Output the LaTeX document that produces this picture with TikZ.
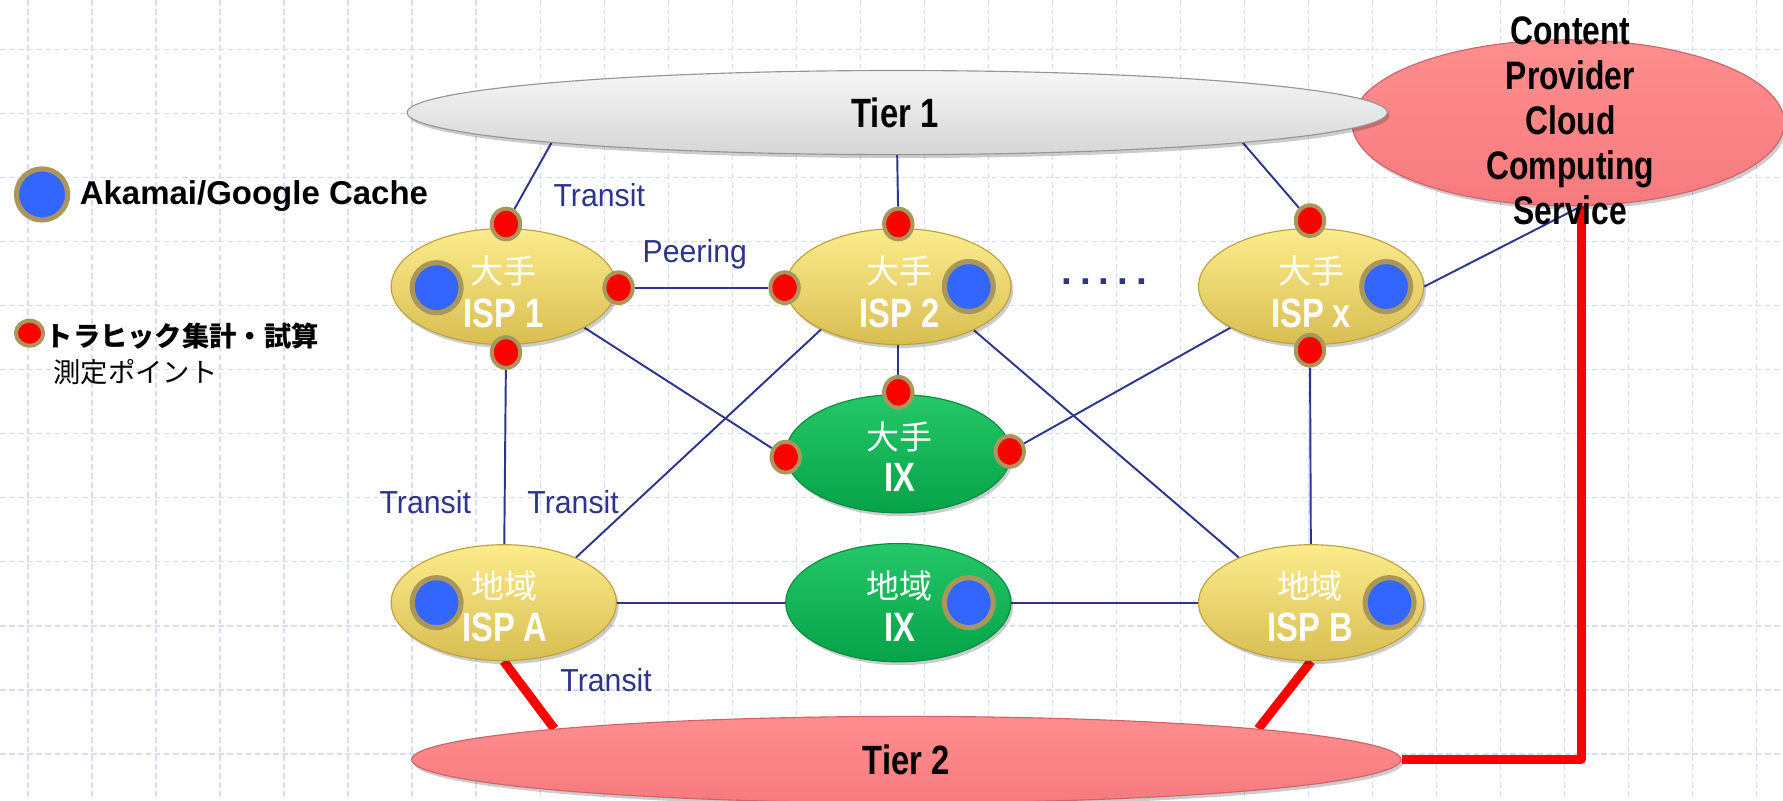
\documentclass[tikz,border=0pt]{standalone}
\usepackage{fontspec}
\setmainfont{Liberation Sans}
\newfontfamily\narrowsans{Liberation Sans}[FakeStretch=0.8]
\newfontfamily\labelsans{Liberation Sans}[FakeStretch=0.95]
\newfontfamily\jp{Noto Sans CJK JP}
\usetikzlibrary{shapes.geometric,shadows,calc}

\definecolor{navy}{RGB}{46,52,140}
\definecolor{gridblue}{RGB}{212,222,250}
\definecolor{cacheblue}{RGB}{51,102,255}
\definecolor{rim}{RGB}{168,150,92}
\definecolor{ispTop}{RGB}{252,236,140}
\definecolor{ispBot}{RGB}{216,190,82}
\definecolor{ispEdge}{RGB}{190,160,60}
\definecolor{ixTop}{RGB}{36,200,104}
\definecolor{ixBot}{RGB}{6,162,72}
\definecolor{ixEdge}{RGB}{5,140,62}
\definecolor{pinkTop}{RGB}{255,142,142}
\definecolor{pinkBot}{RGB}{246,122,126}
\definecolor{pinkEdge}{RGB}{205,100,105}
\definecolor{greyTop}{RGB}{246,246,246}
\definecolor{greyBot}{RGB}{214,214,214}
\definecolor{greyEdge}{RGB}{150,150,150}

\pgfdeclarelayer{gridlayer}
\pgfdeclarelayer{links}
\pgfsetlayers{gridlayer,links,main}

\tikzset{
  softshadow/.style={drop shadow={shadow xshift=2pt,shadow yshift=-3pt,opacity=0.2,fill=black}},
  ispnode/.style={ellipse,inner sep=0pt,minimum width=198pt,minimum height=102pt,
    top color=ispTop,bottom color=ispBot,draw=ispEdge,line width=1pt,softshadow},
  ixnode/.style={ellipse,inner sep=0pt,minimum width=198pt,minimum height=104pt,
    top color=ixTop,bottom color=ixBot,draw=ixEdge,line width=1pt,softshadow},
  tiernode/.style={ellipse,inner sep=0pt,line width=1pt,softshadow},
  cache/.style={ellipse,inner sep=0pt,minimum width=43pt,minimum height=44pt,
    fill=cacheblue,draw=rim,line width=4.5pt},
  mpoint/.style={ellipse,inner sep=0pt,minimum width=25pt,minimum height=27pt,
    fill=red,draw=rim,line width=3.5pt},
  toplbl/.style={text=white,font=\jp\fontsize{29}{30}\selectfont,inner sep=0pt},
  botlbl/.style={text=white,font=\narrowsans\bfseries\fontsize{36}{38}\selectfont,inner sep=0pt},
  tierlbl/.style={text=black,font=\narrowsans\bfseries\fontsize{36}{38}\selectfont,inner sep=0pt},
  navylbl/.style={text=navy,font=\labelsans\fontsize{28}{30}\selectfont,inner sep=0pt},
  link/.style={draw=navy,line width=1.7pt},
  redlink/.style={draw=red,line width=8pt,line join=round},
  gridline/.style={draw=gridblue,line width=1.1pt,dash pattern=on 5pt off 3pt}
}

\begin{document}
\begin{tikzpicture}[x=1pt,y=-1pt]
\useasboundingbox (0,0) rectangle (1568,704);

% background grid
\begin{pgfonlayer}{gridlayer}
  \fill[white] (0,0) rectangle (1568,704);
  \foreach \i in {0,...,27} \draw[gridline] ({24.6+56.3*\i},0) -- ({24.6+56.3*\i},704);
  \foreach \j in {0,...,11} \draw[gridline] (0,{43.7+56.3*\j}) -- (1568,{43.7+56.3*\j});
\end{pgfonlayer}

% backbone clouds
\node[tiernode,minimum width=380pt,minimum height=146pt,top color=pinkTop,bottom color=pinkBot,draw=pinkEdge] (cp) at (1379,108) {};
\node[tiernode,minimum width=862pt,minimum height=74pt,top color=greyTop,bottom color=greyBot,draw=greyEdge] (t1) at (789,99) {};
\node[tiernode,minimum width=870pt,minimum height=76pt,top color=pinkTop,bottom color=pinkBot,draw=pinkEdge] (t2) at (797,668) {};

% ISPs and exchanges
\node[ispnode] (isp1) at (443,252) {};
\node[ispnode] (isp2) at (790,252) {};
\node[ispnode] (ispx) at (1153,252) {};
\node[ixnode]  (bigix) at (790,399) {};
\node[ispnode] (ispa) at (443,530) {};
\node[ixnode]  (locix) at (790,530) {};
\node[ispnode] (ispb) at (1153,530) {};

% labels inside the ellipses
\node[toplbl] (isp1-a) at (443,238) {大手};
\node[botlbl] (isp1-b) at (443,276) {ISP 1};
\node[toplbl] (isp2-a) at (791,238) {大手};
\node[botlbl] (isp2-b) at (791,276) {ISP 2};
\node[toplbl] (ispx-a) at (1153,238) {大手};
\node[botlbl] (ispx-b) at (1153,276) {ISP x};
\node[toplbl] (bigix-a) at (791,384) {大手};
\node[botlbl] (bigix-b) at (791,420) {IX};
\node[toplbl] (ispa-a) at (444,515) {地域};
\node[botlbl] (ispa-b) at (444,552) {ISP A};
\node[toplbl] (locix-a) at (791,515) {地域};
\node[botlbl] (locix-b) at (791,552) {IX};
\node[toplbl] (ispb-a) at (1152,515) {地域};
\node[botlbl] (ispb-b) at (1152,552) {ISP B};

\node[tierlbl] (t1-l) at (787,99) {Tier 1};
\node[tierlbl] (t2-l) at (797,668) {Tier 2};
\node[tierlbl,align=center,font=\narrowsans\bfseries\fontsize{35}{39.5}\selectfont] (cp-l) at (1381,106)
  {Content\\Provider\\Cloud\\Computing\\Service};

% cache servers
\node[cache] (c1) at (384,253) {};
\node[cache] (c2) at (852,252) {};
\node[cache] (cx) at (1219,252) {};
\node[cache] (ca) at (384,530) {};
\node[cache] (cl) at (852,530) {};
\node[cache] (cb) at (1222,530) {};

% measurement points
\node[mpoint] (p1t) at (445,197) {};
\node[mpoint] (p1r) at (544,253) {};
\node[mpoint] (p1b) at (445,310) {};
\node[mpoint] (p2l) at (690,253) {};
\node[mpoint] (p2t) at (790,197) {};
\node[mpoint] (pxt) at (1152,194) {};
\node[mpoint] (pxb) at (1152,308) {};
\node[mpoint] (pixt) at (790,345) {};
\node[mpoint] (pixl) at (691,402) {};
\node[mpoint] (pixr) at (888,397) {};

% link labels
\node[navylbl] (lt1) at (527,172) {Transit};
\node[navylbl] (lpe) at (611,224) {Peering};
\node[navylbl] (lt2) at (374,442) {Transit};
\node[navylbl] (lt3) at (504,442) {Transit};
\node[navylbl] (lt4) at (533,598) {Transit};
\node[navylbl,anchor=base,font=\bfseries\fontsize{34}{36}\selectfont] (dots) at (971,250.5)
  {.\hspace{7pt}.\hspace{7pt}.\hspace{7pt}.\hspace{7pt}.};

% legend
\node[cache,minimum width=45pt,minimum height=45pt] (lgc) at (37,171) {};
\node[anchor=west,inner sep=0pt,font=\bfseries\fontsize{29}{31}\selectfont] (lgc-t) at (70,172) {Akamai/Google Cache};
\node[mpoint,minimum width=24pt,minimum height=22pt] (lgp) at (26,293) {};
\node[anchor=west,inner sep=0pt,font=\jp\bfseries\fontsize{24}{26}\selectfont] (lgp-t) at (40,296) {トラヒック集計・試算};
\node[anchor=west,inner sep=0pt,font=\jp\fontsize{24}{26}\selectfont] (lgp-s) at (47,327) {測定ポイント};

% connectors
\begin{pgfonlayer}{links}
  \draw[link] (t1.185) -- (p1t);
  \draw[link] (t1.south) -- (p2t);
  \draw[link] (t1.355) -- (pxt);
  \draw[link] (p1r) -- (p2l);
  \draw[link] (p1b) -- (ispa);
  \draw[link] (isp1.333) -- (pixl);
  \draw[link] (isp2.209) -- (ispa.32);
  \draw[link] (isp2) -- (pixt);
  \draw[link] (isp2.330) -- (ispb.148);
  \draw[link] (ispx.207) -- (pixr);
  \draw[link] (pxb) -- (ispb);
  \draw[link] (ispx.east) -- (cp.279);
  \draw[link] (ispa) -- (locix) -- (ispb);
  \draw[redlink] (ispa.south) -- (t2.175);
  \draw[redlink] (ispb.south) -- (t2.5);
  \draw[redlink] (t2.east) -| (cp.279);
\end{pgfonlayer}
\end{tikzpicture}
\end{document}
